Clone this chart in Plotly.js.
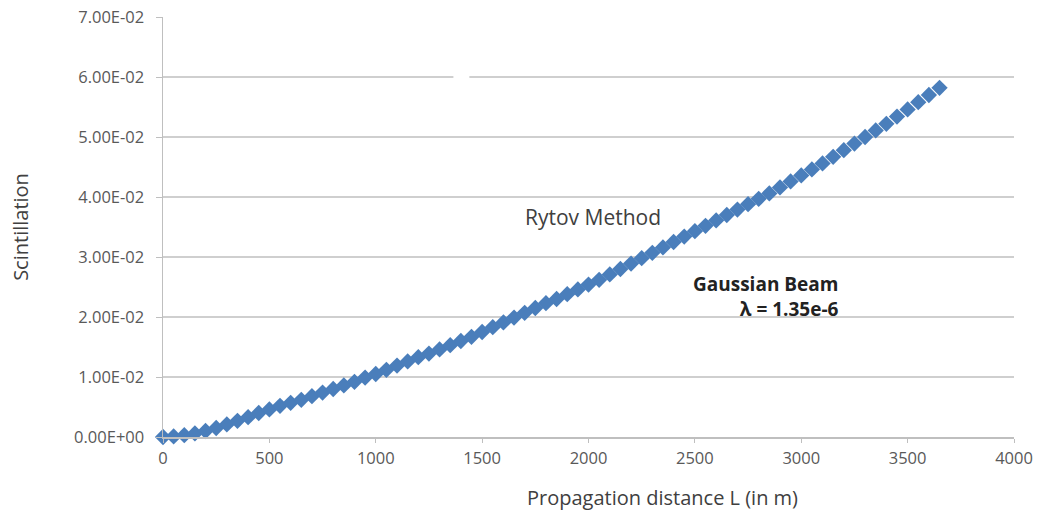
<!DOCTYPE html>
<html>
<head>
<meta charset="utf-8">
<script src="https://cdn.plot.ly/plotly-3.0.1.min.js"></script>
<style>html,body{margin:0;padding:0;background:#fff;}#chart{width:1062px;height:515px;}</style>
</head>
<body>
<div id="chart"></div>
<script>
// Propagation distance L (m)
const distances = [0,50,100,150,200,250,300,350,400,450,500,550,600,650,700,750,800,850,900,950,
  1000,1050,1100,1150,1200,1250,1300,1350,1400,1450,1500,1550,1600,1650,1700,1750,1800,1850,1900,1950,
  2000,2050,2100,2150,2200,2250,2300,2350,2400,2450,2500,2550,2600,2650,2700,2750,2800,2850,2900,2950,
  3000,3050,3100,3150,3200,3250,3300,3350,3400,3450,3500,3550,3600,3650];
// Scintillation (Rytov method, Gaussian beam)
const scintillation = [0.0000,0.0001,0.0003,0.0006,0.0010,0.0015,0.0021,0.0027,0.0033,0.0040,
  0.0046,0.0052,0.0057,0.0062,0.0068,0.0074,0.0080,0.0086,0.0092,0.0099,
  0.0105,0.0112,0.0119,0.0126,0.0133,0.0139,0.0146,0.0153,0.0160,0.0167,
  0.0175,0.0183,0.0191,0.0199,0.0207,0.0215,0.0223,0.0230,0.0238,0.0246,
  0.0254,0.0262,0.0271,0.0280,0.0289,0.0298,0.0307,0.0316,0.0325,0.0334,
  0.0343,0.0352,0.0361,0.0370,0.0379,0.0388,0.0397,0.0406,0.0416,0.0426,
  0.0436,0.0446,0.0456,0.0467,0.0478,0.0489,0.0500,0.0511,0.0522,0.0534,
  0.0546,0.0558,0.0570,0.0582];
const yTickVals = [0,0.01,0.02,0.03,0.04,0.05,0.06,0.07];
const yTickText = ['0.00E+00','1.00E-02','2.00E-02','3.00E-02','4.00E-02','5.00E-02','6.00E-02','7.00E-02'];
const xTickVals = [0,500,1000,1500,2000,2500,3000,3500,4000];

const FONT = '"Open Sans", "DejaVu Sans", sans-serif';

const trace = {
  x: distances, y: scintillation, type: 'scatter', mode: 'markers',
  name: 'Rytov Method',
  marker: {symbol: 'diamond', size: 12.5, color: '#4a7ebb', line: {width: 0}},
  cliponaxis: false, showlegend: false, hoverinfo: 'x+y'
};

const layout = {
  width: 1062, height: 515,
  margin: {l: 163, r: 48, t: 17, b: 78},
  paper_bgcolor: '#ffffff', plot_bgcolor: '#ffffff',
  font: {family: FONT, color: '#595959'},
  showlegend: false,
  xaxis: {
    range: [0, 4000], tickvals: xTickVals, ticks: 'outside', ticklen: 4, tickcolor: '#bfbfbf',
    tickfont: {family: FONT, size: 16.5, color: '#595959'}, ticklabelstandoff: 2,
    showgrid: false, zeroline: false, showline: true, linecolor: '#bfbfbf', linewidth: 1.5,
    fixedrange: true
  },
  yaxis: {
    range: [0, 0.07], tickvals: yTickVals, ticktext: yTickText, ticks: 'outside', ticklen: 6, tickcolor: '#bfbfbf',
    tickfont: {family: FONT, size: 16.5, color: '#595959'}, ticklabelstandoff: 8,
    showgrid: true, gridcolor: '#cfcfcf', gridwidth: 1.8, zeroline: false,
    showline: true, linecolor: '#bfbfbf', linewidth: 1.5,
    title: {text: 'Scintillation', font: {family: FONT, size: 20, color: '#404040'}, standoff: 40},
    fixedrange: true
  },
  shapes: [
    {type: 'rect', xref: 'x', yref: 'y', x0: 1365, x1: 1440, y0: 0.0596, y1: 0.0604,
     fillcolor: '#ffffff', line: {width: 0}, layer: 'above'}
  ],
  annotations: [
    {text: 'Propagation distance L (in m)', xref: 'paper', yref: 'paper', x: 0.5875, y: -0.143,
     xanchor: 'center', yanchor: 'middle', showarrow: false,
     font: {family: FONT, size: 20, color: '#404040'}},
    {text: 'Rytov Method', xref: 'x', yref: 'y', x: 2019, y: 0.0366,
     xanchor: 'center', yanchor: 'middle', showarrow: false,
     font: {family: FONT, size: 21, color: '#404040'}},
    {text: '<b>Gaussian Beam</b><br><b>λ = 1.35e-6</b>', xref: 'x', yref: 'y', x: 3186, y: 0.0234,
     xanchor: 'right', yanchor: 'middle', align: 'right', showarrow: false,
     font: {family: FONT, size: 19, color: '#222222'}}
  ]
};

Plotly.newPlot('chart', [trace], layout, {displayModeBar: false, staticPlot: true});
</script>
</body>
</html>
